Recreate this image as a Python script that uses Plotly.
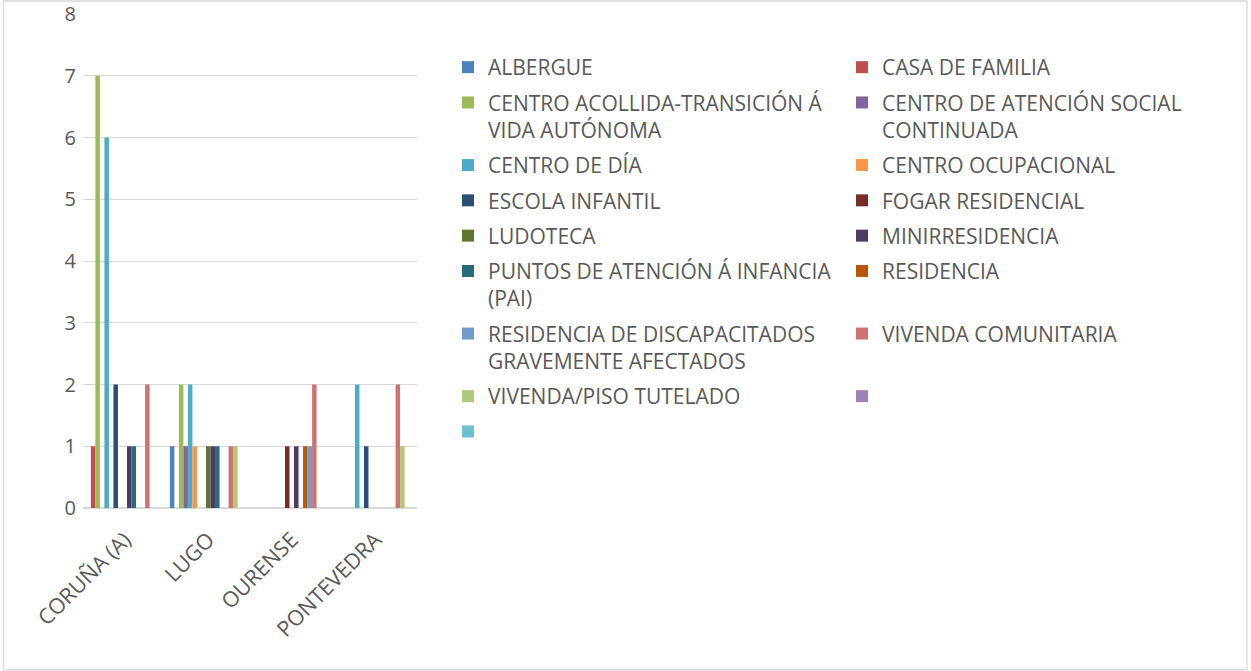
import plotly.graph_objects as go

categories = ["CORUÑA (A)", "LUGO", "OURENSE", "PONTEVEDRA"]

series_names = [
    "ALBERGUE",
    "CASA DE FAMILIA",
    "CENTRO ACOLLIDA-TRANSICIÓN Á<br>VIDA AUTÓNOMA",
    "CENTRO DE ATENCIÓN SOCIAL<br>CONTINUADA",
    "CENTRO DE DÍA",
    "CENTRO OCUPACIONAL",
    "ESCOLA INFANTIL",
    "FOGAR RESIDENCIAL",
    "LUDOTECA",
    "MINIRRESIDENCIA",
    "PUNTOS DE ATENCIÓN Á INFANCIA<br>(PAI)",
    "RESIDENCIA",
    "RESIDENCIA DE DISCAPACITADOS<br>GRAVEMENTE AFECTADOS",
    "VIVENDA COMUNITARIA",
    "VIVENDA/PISO TUTELADO",
    " ",
    " ",
]

# values per series: [CORUÑA (A), LUGO, OURENSE, PONTEVEDRA]
albergue = [None, 1, None, None]
casa_familia = [1, None, None, None]
centro_acollida = [7, 2, None, None]
centro_atencion_social = [None, 1, None, None]
centro_dia = [6, 2, None, 2]
centro_ocupacional = [None, 1, None, None]
escola_infantil = [2, None, None, 1]
fogar_residencial = [None, None, 1, None]
ludoteca = [None, 1, None, None]
minirresidencia = [1, 1, 1, None]
pai = [1, 1, None, None]
residencia = [None, None, 1, None]
residencia_discap = [None, None, 1, None]
vivenda_comunitaria = [2, 1, 2, 2]
vivenda_tutelado = [None, 1, None, 1]
blank_1 = [None, None, None, None]
blank_2 = [None, None, None, None]

series_values = [
    albergue, casa_familia, centro_acollida, centro_atencion_social, centro_dia,
    centro_ocupacional, escola_infantil, fogar_residencial, ludoteca,
    minirresidencia, pai, residencia, residencia_discap, vivenda_comunitaria,
    vivenda_tutelado, blank_1, blank_2,
]

colors = [
    "#4F81BD", "#C0504D", "#9BBB59", "#8064A2", "#4BACC6", "#F79646",
    "#2C4D75", "#772C2A", "#5F7530", "#4D3B62", "#276A7C", "#B65708",
    "#729ACA", "#CD7371", "#AFC97A", "#9983B5", "#6FBDD1",
]

y_ticks = [0, 1, 2, 3, 4, 5, 6, 7, 8]

fig = go.Figure()
for i, (name, vals, col) in enumerate(zip(series_names, series_values, colors)):
    fig.add_trace(go.Bar(
        x=categories, y=vals, name=name, marker_color=col,
        marker_line_width=0, legendgroup=f"g{i}",
    ))

W, H = 1251, 671
ml, mr, mt, mb = 83, 10, 14, 163
pw = W - ml - mr
ph = H - mt - mb

fig.update_layout(
    width=W, height=H,
    margin=dict(l=ml, r=mr, t=mt, b=mb, autoexpand=False),
    paper_bgcolor="white", plot_bgcolor="white",
    barmode="group", bargap=0.08, bargroupgap=0,
    font=dict(family="Open Sans, Noto Sans, sans-serif", color="#595959", size=20),
    xaxis=dict(
        domain=[0, (417 - ml) / pw], automargin=False,
        tickangle=-45, showgrid=False, showline=False, ticks="",
        tickfont=dict(size=21.5, color="#595959"),
        ticklabelstandoff=14,
    ),
    yaxis=dict(
        range=[0, 8], tickvals=y_ticks, showgrid=True, gridcolor="#D9D9D9",
        gridwidth=1.3, zeroline=True, zerolinecolor="#D9D9D9", zerolinewidth=2,
        showline=False, ticks="", tickfont=dict(size=20, color="#595959"),
        ticklabelstandoff=6, automargin=False,
    ),
    legend=dict(
        orientation="h", x=(448 - ml) / pw, xanchor="left",
        y=(508 - 47) / ph, yanchor="top",
        entrywidth=349, tracegroupgap=5, valign="top", maxheight=640,
        font=dict(size=21, color="#595959"),
        bgcolor="rgba(0,0,0,0)",
    ),
    showlegend=True,
    shapes=[dict(
        type="rect", xref="paper", yref="paper",
        x0=(3.5 - ml) / pw, x1=(1247 - ml) / pw,
        y0=(508 - 670) / ph, y1=(508 - 1) / ph,
        line=dict(color="#D9D9D9", width=1.3), fillcolor="rgba(0,0,0,0)",
        layer="below",
    )],
)

fig.write_html(
    "out.html",
    config={"displayModeBar": False},
    post_script="document.body.style.margin='0px';",
)
